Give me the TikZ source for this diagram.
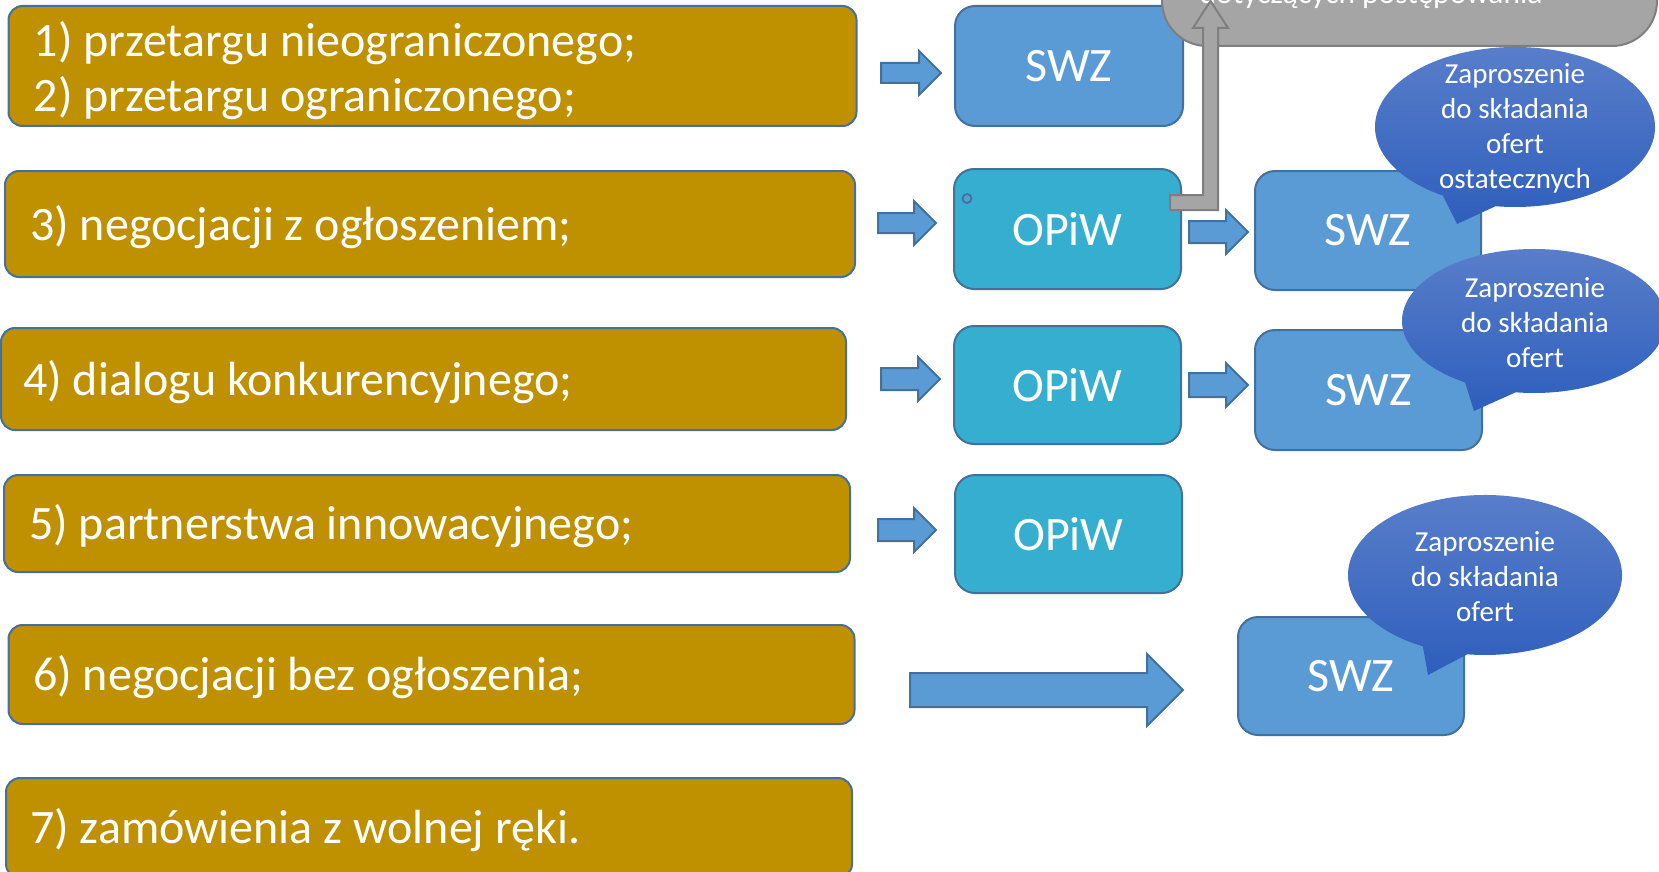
\documentclass[tikz,border=0pt]{standalone}
\usepackage{fontspec}
\setmainfont{Carlito}
\usetikzlibrary{calc}
\definecolor{gold}{HTML}{BF9000}
\definecolor{bord}{HTML}{41719C}
\definecolor{swz}{HTML}{5B9BD5}
\definecolor{opiw}{HTML}{35AED0}
\definecolor{grayf}{HTML}{A5A5A5}
\definecolor{grayb}{HTML}{7F7F7F}
\definecolor{calltop}{HTML}{5B80CB}
\definecolor{callbot}{HTML}{2E5EBC}
\newcommand{\blockarr}[6]{%
  \draw[arrowsty] ({#1},{#3-#4}) -- ({#2-#6},{#3-#4}) -- ({#2-#6},{#3-#5}) -- ({#2},{#3}) -- ({#2-#6},{#3+#5}) -- ({#2-#6},{#3+#4}) -- ({#1},{#3+#4}) -- cycle;}
\begin{document}
\begin{tikzpicture}[x=1pt,y=-1pt,
  goldbox/.style={draw=bord, fill=gold, line width=2pt, rounded corners=14pt, anchor=north west, inner sep=0pt, outer sep=0pt},
  goldtext/.style={text=white, anchor=west, inner sep=0pt, align=left, font=\fontsize{48}{55}\selectfont},
  bluebox/.style={draw=bord, line width=2pt, rounded corners=20pt, text=white, anchor=north west, inner sep=0pt, font=\fontsize{48}{58}\selectfont, outer sep=0pt},
  arrowsty/.style={draw=bord, fill=swz, line width=2pt, line join=miter},
  callout/.style={top color=calltop, bottom color=callbot},
  calltext/.style={text=white, align=center, font=\fontsize{29}{35}\selectfont, inner sep=0pt}
]
\useasboundingbox (0,0) rectangle (1659,872);
\clip (0,0) rectangle (1659,872);

% left boxes
\node[goldbox, minimum width=848pt, minimum height=120pt] (g1) at (8.5,6) {};
\node[goldtext] (t1) at ($(g1.west)+(25,5)$) {1) przetargu nieograniczonego;\\2) przetargu ograniczonego;};
\node[goldbox, minimum width=850pt, minimum height=106pt] (g3) at (5,171) {};
\node[goldtext] (t3) at ($(g3.west)+(25,3)$) {3) negocjacji z ogłoszeniem;};
\node[goldbox, minimum width=845pt, minimum height=102pt] (g4) at (1,328) {};
\node[goldtext] (t4) at ($(g4.west)+(22,3)$) {4) dialogu konkurencyjnego;};
\node[goldbox, minimum width=846pt, minimum height=97pt] (g5) at (4,475) {};
\node[goldtext] (t5) at ($(g5.west)+(25,3)$) {5) partnerstwa innowacyjnego;};
\node[goldbox, minimum width=846pt, minimum height=99pt] (g6) at (8.5,625) {};
\node[goldtext] (t6) at ($(g6.west)+(24.5,3)$) {6) negocjacji bez ogłoszenia;};
\node[goldbox, minimum width=846pt, minimum height=100pt] (g7) at (6,778) {};
\node[goldtext] (t7) at ($(g7.west)+(24,2)$) {7) zamówienia z wolnej ręki.};

% blue boxes
\node[bluebox, fill=swz, minimum width=228pt, minimum height=120pt] (swz1) at (955,6) {SWZ};
\node[bluebox, fill=opiw, minimum width=227pt, minimum height=120pt] (opiw3) at (954,169) {OPiW};
\node[bluebox, fill=swz, minimum width=226pt, minimum height=119pt] (swz3) at (1255,171) {SWZ};
\node[bluebox, fill=opiw, minimum width=227pt, minimum height=118pt] (opiw4) at (954,326) {OPiW};
\node[bluebox, fill=swz, minimum width=227pt, minimum height=120pt] (swz4) at (1255,330) {SWZ};
\node[bluebox, fill=opiw, minimum width=227pt, minimum height=118pt] (opiw5) at (955,475) {OPiW};
\node[bluebox, fill=swz, minimum width=226pt, minimum height=118pt] (swz6) at (1238,617) {SWZ};

\draw[draw=bord, fill=swz, line width=1.8pt] (967,198.5) circle[radius=4.5];

% block arrows
\blockarr{881}{941}{73}{10}{22}{22}
\blockarr{878}{936}{223}{10}{22}{22}
\blockarr{1189}{1248}{232}{11}{22}{22}
\blockarr{881}{940}{379}{11}{22}{22}
\blockarr{1189}{1248}{385}{12}{22}{22}
\blockarr{878}{936}{530}{11}{22}{22}
\blockarr{910}{1183}{690}{17}{36}{36}

% gray box
\draw[fill=grayf, draw=grayb, line width=2pt, rounded corners=45pt] (1162,-80) rectangle (1657,46);
\node[text=white, anchor=base, font=\fontsize{31.5}{38}\selectfont, inner sep=0pt] (graytxt) at (1371,3.5) {dotyczących postępowania};
\draw[fill=grayf, draw=grayb, line width=2pt, line join=miter] (1170,195) -- (1203,195) -- (1203,28) -- (1193,28) -- (1210.5,1) -- (1228,28) -- (1218,28) -- (1218,210) -- (1170,210) -- cycle;

% callouts
\shade[callout] ($(1515,127)+(121:140 and 80)$) arc[start angle=121, end angle=458, x radius=140, y radius=80] -- (1457,224) -- cycle;
\node[calltext] (c1) at (1515,128) {Zaproszenie\\do składania\\ofert\\ostatecznych};
\shade[callout] ($(1534,321)+(121.5:132 and 72)$) arc[start angle=121.5, end angle=458, x radius=132, y radius=72] -- (1474,411) -- cycle;
\node[calltext] (c2) at (1535,323) {Zaproszenie\\do składania\\ofert};
\shade[callout] ($(1485,575)+(117:137 and 80)$) arc[start angle=117, end angle=457.5, x radius=137, y radius=80] -- (1428,675) -- cycle;
\node[calltext] (c3) at (1485,576.5) {Zaproszenie\\do składania\\ofert};
\end{tikzpicture}
\end{document}
